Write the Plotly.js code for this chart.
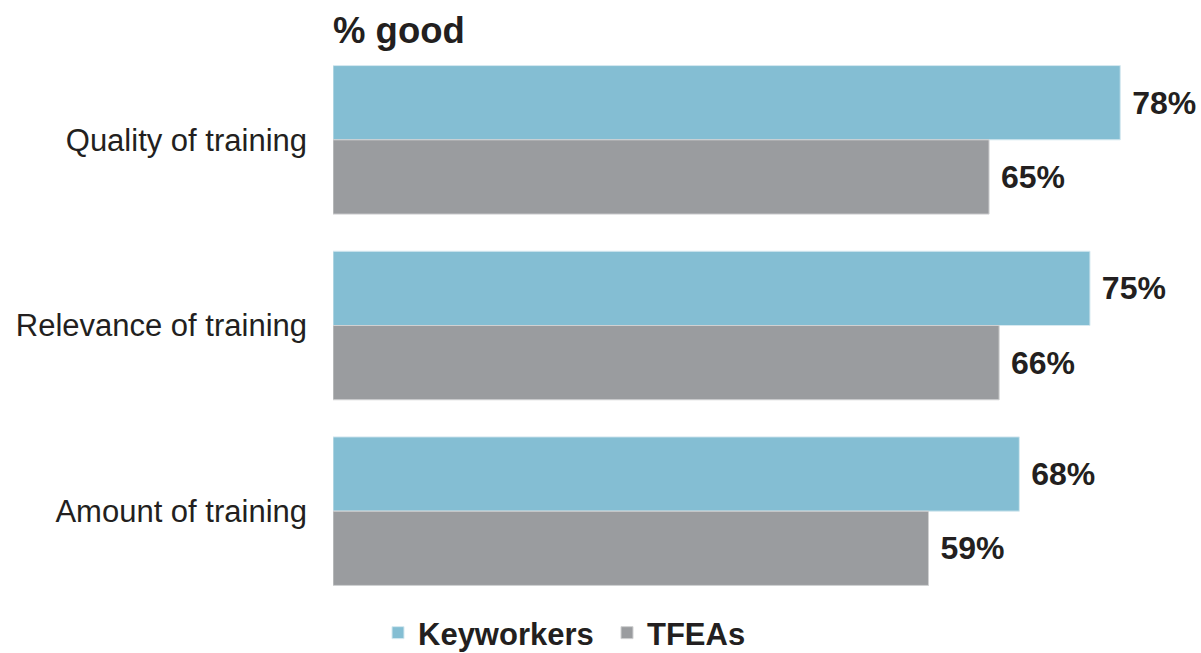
<!DOCTYPE html>
<html>
<head>
<meta charset="utf-8">
<script src="https://cdn.plot.ly/plotly-3.0.1.min.js"></script>
<style>html,body{margin:0;padding:0;background:#fff;}#chart{width:1201px;height:653px;}</style>
</head>
<body>
<div id="chart"></div>
<script>
const categories = ["Quality of training", "Relevance of training", "Amount of training"];
const keyworkers = [78, 75, 68];
const tfeas = [65, 66, 59];
const seriesNames = ["Keyworkers", "TFEAs"];

const FONT = "Liberation Sans, Arial, Helvetica, sans-serif";
const TXT = "#231f20";

const traces = [
  {
    type: "bar", orientation: "h", name: seriesNames[0],
    y: categories, x: keyworkers,
    marker: {color: "#84bed3", line: {color: "#d6e9f0", width: 1}},
    texttemplate: " %{x}%", textposition: "outside", cliponaxis: false,
    textfont: {family: FONT, size: 32, color: TXT, weight: "bold"},
    hoverinfo: "skip"
  },
  {
    type: "bar", orientation: "h", name: seriesNames[1],
    y: categories, x: tfeas,
    marker: {color: "#9a9c9f", line: {color: "#d0d1d2", width: 1}},
    texttemplate: " %{x}%", textposition: "outside", cliponaxis: false,
    textfont: {family: FONT, size: 32, color: TXT, weight: "bold"},
    hoverinfo: "skip"
  }
];

const layout = {
  width: 1201, height: 653,
  margin: {l: 333, r: 0, t: 47, b: 49},
  paper_bgcolor: "#fff", plot_bgcolor: "#fff",
  barmode: "group", bargap: 0.2, bargroupgap: 0,
  font: {family: FONT, color: TXT},
  title: {text: "<b>% good</b>", x: 333/1201, xanchor: "left", xref: "container",
          y: 1 - 30/653, yanchor: "middle", yref: "container",
          font: {family: FONT, size: 36.5, color: TXT}},
  xaxis: {range: [0, 86], visible: false, showgrid: false, zeroline: false, fixedrange: true},
  yaxis: {autorange: "reversed", showgrid: false, zeroline: false, showline: false,
          ticks: "", ticklabelstandoff: 25, tickfont: {family: FONT, size: 31, color: TXT}},
  showlegend: true,
  legend: {orientation: "h", x: 378/1201, xref: "container", xanchor: "left",
           y: 1 - 633/653, yref: "container", yanchor: "middle",
           font: {family: FONT, size: 31, color: TXT, weight: "bold"},
           entrywidth: 184, entrywidthmode: "pixels",
           itemwidth: 30, tracegroupgap: 0, traceorder: "normal"}
};

Plotly.newPlot("chart", traces, layout, {displayModeBar: false, staticPlot: true});
</script>
</body>
</html>
